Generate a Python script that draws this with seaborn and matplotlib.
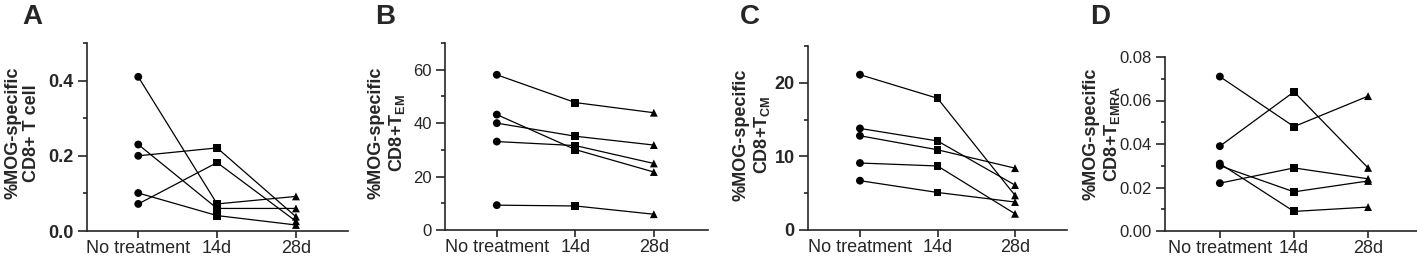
import numpy as np
import pandas as pd
import matplotlib
matplotlib.use('Agg')
import matplotlib.pyplot as plt
from matplotlib.ticker import MultipleLocator, FormatStrFormatter
import seaborn as sns

# time points
times = ['No treatment', '14d', '28d']

# panel A, %MOG-specific CD8+ T cell (one list per mouse)
a_vals = [[0.41, 0.072, 0.092],
          [0.23, 0.060, 0.060],
          [0.20, 0.221, 0.038],
          [0.072, 0.182, 0.026],
          [0.101, 0.041, 0.016]]

# panel B, T_EM
b_vals = [[58.1, 47.7, 43.9],
          [40.0, 35.1, 31.8],
          [43.2, 30.1, 21.7],
          [33.1, 31.6, 24.9],
          [9.3, 9.0, 5.9]]

# panel C, T_CM
c_vals = [[21.1, 17.9, 4.7],
          [13.8, 12.1, 6.1],
          [12.8, 10.9, 8.4],
          [9.1, 8.7, 2.2],
          [6.7, 5.1, 3.8]]

# panel D, T_EMRA
d_vals = [[0.071, 0.048, 0.062],
          [0.039, 0.064, 0.029],
          [0.022, 0.029, 0.024],
          [0.030, 0.018, 0.023],
          [0.031, 0.009, 0.011]]

letters = ['A', 'B', 'C', 'D']
ylabels = ['%MOG-specific\nCD8+ T cell',
           '%MOG-specific\nCD8+T$_{\\mathregular{EM}}$',
           '%MOG-specific\nCD8+T$_{\\mathregular{CM}}$',
           '%MOG-specific\nCD8+T$_{\\mathregular{EMRA}}$']


def to_long(vals):
    rows = []
    for i, mouse in enumerate(vals):
        for t, v in zip(times, mouse):
            rows.append({'mouse': i, 'time': t, 'value': v})
    return pd.DataFrame(rows)


sns.set_style('ticks')
plt.rcParams['font.family'] = ['Liberation Sans', 'DejaVu Sans']
plt.rcParams['mathtext.default'] = 'regular'

W, H = 1417, 257
fig = plt.figure(figsize=(W / 100, H / 100), dpi=100)

# axes boxes in pixels: left, top, right, bottom
boxes = [(87, 43, 348, 231),
         (445, 43, 708, 230),
         (808, 46, 1067, 230),
         (1165, 57, 1417, 231)]
xlims = [(-0.65, 2.66), (-0.66, 2.69), (-0.67, 2.67), (-0.74, 2.66)]
ylims = [(0, 0.5), (0, 70), (0, 25), (0, 0.08)]
majors = [0.2, 20, 10, 0.02]
minors = [0.1, 10, 5, 0.01]
fmts = ['%.1f', '%d', '%d', '%.2f']
bold_ticks = [True, False, True, False]
ytick_size = [13, 12, 13, 12]
label_x = [-0.18, -0.145, -0.14, -0.17]
label_y = [0.52, 0.52, 0.52, 0.56]
letter_x = [22, 375, 740, 1090]

markers = {'No treatment': 'o', '14d': 's', '28d': '^'}

for k, vals in enumerate([a_vals, b_vals, c_vals, d_vals]):
    l, t, r, b = boxes[k]
    ax = fig.add_axes([l / W, 1 - b / H, (r - l) / W, (b - t) / H])
    df = to_long(vals)
    sns.lineplot(data=df, x='time', y='value', units='mouse', estimator=None,
                 sort=False, color='black', lw=0.9, ax=ax)
    sns.scatterplot(data=df, x='time', y='value', style='time', markers=markers,
                    color='black', s=32, linewidth=0, legend=False, ax=ax,
                    zorder=3, clip_on=False)
    ax.set_xlim(*xlims[k])
    ax.set_ylim(*ylims[k])
    ax.yaxis.set_major_locator(MultipleLocator(majors[k]))
    ax.yaxis.set_minor_locator(MultipleLocator(minors[k]))
    ax.yaxis.set_major_formatter(FormatStrFormatter(fmts[k]))
    sns.despine(ax=ax)
    for s in ['left', 'bottom']:
        ax.spines[s].set_linewidth(1.2)
    ax.tick_params(axis='x', which='major', length=5, width=1.2,
                   labelsize=13, pad=1.5)
    ax.tick_params(axis='y', which='major', length=6.5, width=1.2,
                   labelsize=ytick_size[k], pad=3)
    ax.tick_params(axis='y', which='minor', length=3.2, width=1.2)
    if bold_ticks[k]:
        for lab in ax.get_yticklabels():
            lab.set_fontweight('bold')
    ax.set_xlabel('')
    ax.set_ylabel(ylabels[k], fontsize=13, fontweight='bold', linespacing=1.15)
    ax.yaxis.set_label_coords(label_x[k], label_y[k])
    fig.text(letter_x[k] / W, 1 - 4 / H, letters[k], fontsize=20,
             fontweight='bold', va='top', ha='left')

fig.savefig('out.png', dpi=100)
